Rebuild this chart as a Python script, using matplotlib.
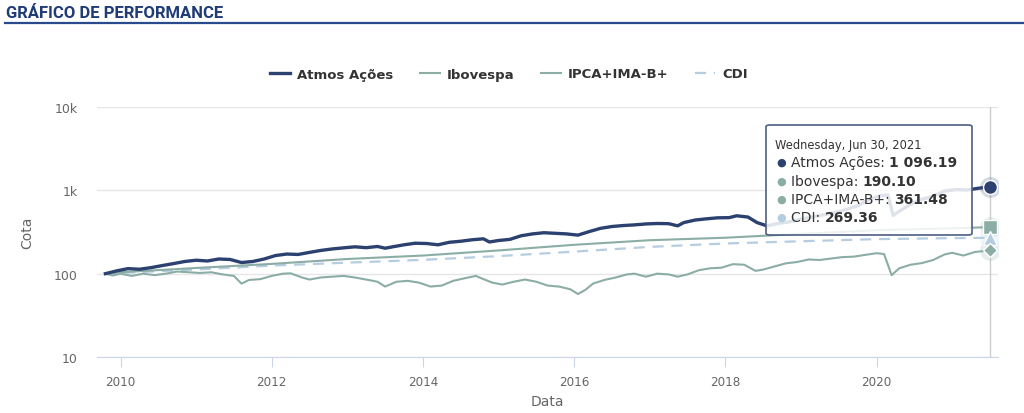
import matplotlib
matplotlib.use("Agg")
import matplotlib.pyplot as plt
from matplotlib.patches import FancyBboxPatch

# ---- dados (anos decimais, cota base 100) ----
atmos_x = [2009.80, 2009.95, 2010.10, 2010.25, 2010.40, 2010.55, 2010.70, 2010.85, 2011.00, 2011.15,
           2011.30, 2011.45, 2011.60, 2011.75, 2011.90, 2012.05, 2012.20, 2012.35, 2012.50, 2012.65,
           2012.80, 2012.95, 2013.10, 2013.25, 2013.40, 2013.50, 2013.60, 2013.75, 2013.90, 2014.05,
           2014.20, 2014.35, 2014.50, 2014.65, 2014.80, 2014.88, 2015.00, 2015.15, 2015.30, 2015.45,
           2015.60, 2015.75, 2015.90, 2016.05, 2016.20, 2016.35, 2016.50, 2016.65, 2016.80, 2016.95,
           2017.10, 2017.25, 2017.37, 2017.45, 2017.60, 2017.75, 2017.90, 2018.05, 2018.15, 2018.30,
           2018.42, 2018.55, 2018.70, 2018.85, 2019.00, 2019.15, 2019.30, 2019.45, 2019.60, 2019.75,
           2019.90, 2020.05, 2020.15, 2020.22, 2020.30, 2020.45, 2020.60, 2020.75, 2020.90, 2021.05,
           2021.20, 2021.35, 2021.495]
atmos_y = [100, 108, 115, 113, 118, 125, 132, 140, 145, 142,
           150, 148, 136, 140, 150, 165, 172, 170, 180, 190,
           198, 204, 210, 205, 212, 202, 210, 222, 232, 230,
           222, 238, 245, 255, 262, 240, 250, 258, 285, 300,
           310, 305, 300, 290, 320, 350, 368, 378, 385, 395,
           400, 398, 375, 410, 440, 455, 468, 470, 495, 478,
           410, 375, 400, 420, 450, 480, 510, 540, 590, 650,
           780, 860, 880, 500, 560, 680, 780, 850, 980, 1020,
           1010, 1060, 1096.19]

ibov_x = [2009.80, 2009.90, 2010.00, 2010.15, 2010.30, 2010.45, 2010.60, 2010.75, 2010.90, 2011.05,
          2011.20, 2011.35, 2011.50, 2011.60, 2011.70, 2011.85, 2012.00, 2012.15, 2012.25, 2012.40,
          2012.50, 2012.65, 2012.80, 2012.95, 2013.10, 2013.25, 2013.40, 2013.50, 2013.65, 2013.80,
          2013.95, 2014.10, 2014.25, 2014.40, 2014.55, 2014.70, 2014.80, 2014.92, 2015.05, 2015.20,
          2015.35, 2015.50, 2015.65, 2015.80, 2015.95, 2016.05, 2016.15, 2016.25, 2016.40, 2016.55,
          2016.70, 2016.80, 2016.95, 2017.10, 2017.25, 2017.37, 2017.50, 2017.65, 2017.80, 2017.95,
          2018.10, 2018.25, 2018.40, 2018.50, 2018.65, 2018.80, 2018.95, 2019.10, 2019.25, 2019.40,
          2019.55, 2019.70, 2019.85, 2020.00, 2020.10, 2020.20, 2020.30, 2020.45, 2020.60, 2020.75,
          2020.90, 2021.00, 2021.15, 2021.30, 2021.495]
ibov_y = [100, 95, 100, 94, 100, 96, 100, 106, 104, 102,
          104, 98, 94, 76, 84, 86, 94, 100, 101, 90,
          85, 90, 92, 94, 90, 85, 80, 70, 80, 82,
          78, 70, 72, 82, 88, 94, 86, 78, 74, 80,
          85, 80, 72, 70, 65, 57, 64, 76, 84, 90,
          98, 100, 92, 100, 98, 92, 98, 110, 116, 118,
          130, 128, 108, 112, 122, 133, 138, 148, 146, 152,
          158, 160, 168, 176, 172, 96, 116, 128, 134, 146,
          170, 178, 165, 182, 190.10]

ipca_x = [2009.80, 2010.0, 2011.0, 2012.0, 2013.0, 2014.0, 2015.0, 2016.0,
          2017.0, 2018.0, 2019.0, 2020.0, 2021.0, 2021.495]
ipca_y = [100, 104, 117, 131, 150, 165, 190, 222,
          252, 270, 300, 332, 350, 361.48]

cdi_x = [2009.80, 2010.0, 2011.0, 2012.0, 2013.0, 2014.0, 2015.0, 2016.0,
         2017.0, 2018.0, 2019.0, 2020.0, 2021.0, 2021.495]
cdi_y = [100, 102.1, 112.1, 125.1, 135.6, 146.5, 162.4, 183.8,
         209.5, 230.3, 245.0, 259.7, 266.9, 269.36]

anos = [2010, 2012, 2014, 2016, 2018, 2020]
y_ticks = [10, 100, 1000, 10000]
y_labels = ["10", "100", "1k", "10k"]

nomes = ["Atmos Ações", "Ibovespa", "IPCA+IMA-B+", "CDI"]
valores = ["1 096.19", "190.10", "361.48", "269.36"]

# ---- cores ----
c_atmos = "#2c416f"
c_ibov = "#8cada6"
c_ipca = "#8cada6"
c_cdi = "#b5cde0"

W, H = 1024, 414
def fx(x):
    return x / W
def fy(y):
    return 1 - y / H

fig = plt.figure(figsize=(W / 100, H / 100), dpi=100)

# titulo
fig.text(fx(6), fy(14), "GRÁFICO DE PERFORMANCE", family="Roboto", weight="bold",
         fontsize=12, color="#1f3b78", va="center", ha="left")
fig.add_artist(plt.Line2D([fx(5), 1], [fy(24), fy(24)], color="#2a4a8e", lw=1.6))

ax = fig.add_axes([fx(97), fy(358), (998 - 97) / W, (358 - 108) / H])
ax.set_yscale("log")
ax.set_ylim(10, 10000)
ax.set_xlim(2009.689, 2021.607)

l1, = ax.plot(atmos_x, atmos_y, color=c_atmos, lw=2.4, zorder=5, label=nomes[0])
l2, = ax.plot(ibov_x, ibov_y, color=c_ibov, lw=1.5, zorder=3, label=nomes[1])
l3, = ax.plot(ipca_x, ipca_y, color=c_ipca, lw=1.5, zorder=4, label=nomes[2])
l4, = ax.plot(cdi_x, cdi_y, color=c_cdi, lw=1.6, ls=(0, (5, 3.5)), zorder=2, label=nomes[3])

# marcadores finais com halo
ultimo = atmos_x[-1]
for yv, cor, mk, ms in [(atmos_y[-1], c_atmos, "o", 10), (ipca_y[-1], c_ipca, "s", 9.5),
                        (cdi_y[-1], c_cdi, "^", 9.5), (ibov_y[-1], c_ibov, "D", 7.5)]:
    ax.plot([ultimo], [yv], marker="o", ms=15, color=cor, alpha=0.2, mew=0, zorder=6)
    ax.plot([ultimo], [yv], marker=mk, ms=ms, color=cor, mec="white", mew=1, zorder=7)

ax.axvline(ultimo, color="#cccccc", lw=1, zorder=1)

ax.set_yticks(y_ticks)
ax.set_yticklabels(y_labels)
ax.minorticks_off()
ax.set_xticks(anos)
ax.set_xticklabels([str(a) for a in anos], family="DejaVu Sans", fontstretch="condensed")
ax.grid(axis="y", color="#e6e6e6", lw=1)
ax.set_axisbelow(True)
for s in ["top", "right", "left"]:
    ax.spines[s].set_visible(False)
ax.spines["bottom"].set_color("#ccd6eb")
ax.tick_params(axis="y", length=0, pad=14, labelsize=9, labelcolor="#666666")
ax.tick_params(axis="x", length=7, color="#ccd6eb", pad=6, labelsize=9.5, labelcolor="#666666")
ax.set_ylabel("Cota", fontsize=10, color="#666666", labelpad=14)
ax.set_xlabel("Data", fontsize=10, color="#666666", labelpad=4)

leg = fig.legend(handles=[l1, l2, l3, l4], loc="center", bbox_to_anchor=(fx(509), fy(75)),
                 ncol=4, frameon=False, handlelength=1.5, handletextpad=0.55, columnspacing=2.0,
                 prop={"weight": "bold", "size": 9.5})
for t in leg.get_texts():
    t.set_color("#333333")

# tooltip
box = FancyBboxPatch((fx(766), fy(236)), fx(972) - fx(766), fy(126) - fy(236),
                     boxstyle="round,pad=0,rounding_size=0.004", transform=fig.transFigure,
                     facecolor="white", alpha=0.85, edgecolor="none", zorder=10)
borda = FancyBboxPatch((fx(766), fy(236)), fx(972) - fx(766), fy(126) - fy(236),
                       boxstyle="round,pad=0,rounding_size=0.004", transform=fig.transFigure,
                       facecolor="none", edgecolor="#4e5f85", lw=1.2, zorder=11)
fig.add_artist(box)
fig.add_artist(borda)
fig.text(fx(775), fy(145), "Wednesday, Jun 30, 2021", fontsize=8.3, color="#333333",
         va="center", zorder=12)

cores_tt = [c_atmos, c_ibov, c_ipca, c_cdi]
linhas_y = [163, 182, 200, 218]
fig.canvas.draw()
rend = fig.canvas.get_renderer()
for nome, val, cor, yy in zip(nomes, valores, cores_tt, linhas_y):
    fig.text(fx(776), fy(yy), "●", fontsize=8, color=cor, va="center", zorder=12)
    t = fig.text(fx(791), fy(yy), nome + ": ", fontsize=10, color="#333333", va="center", zorder=12)
    bb = t.get_window_extent(renderer=rend)
    fig.text(bb.x1 / W, fy(yy), val, fontsize=10, weight="bold", color="#333333",
             va="center", zorder=12)

fig.savefig("out.png", dpi=100)
